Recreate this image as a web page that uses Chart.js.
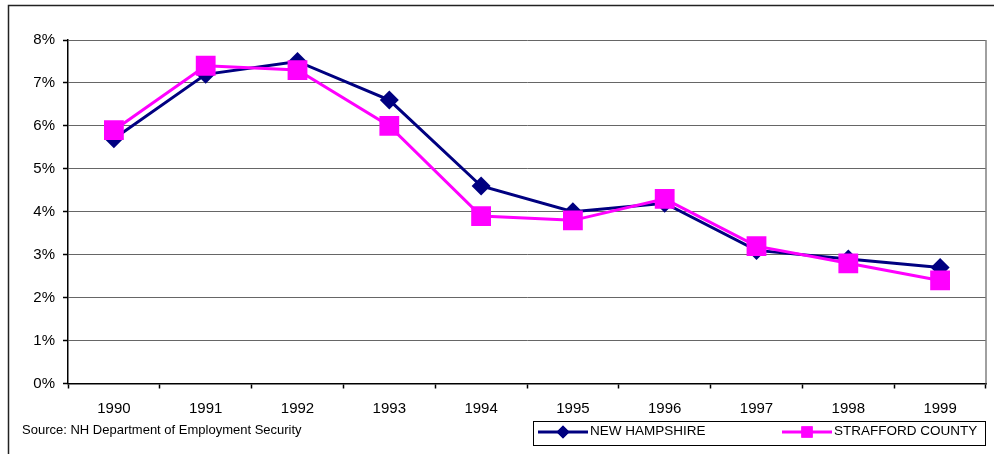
<!DOCTYPE html>
<html>
<head>
<meta charset="utf-8">
<title>Unemployment Rate 1990-1999</title>
<script src="https://cdn.jsdelivr.net/npm/chart.js@4/dist/chart.umd.min.js"></script>
<style>
  html, body { margin: 0; padding: 0; background: #fff; }
  #wrap { position: relative; width: 994px; height: 454px; }
</style>
</head>
<body>
<div id="wrap"><canvas id="chart" width="994" height="454"></canvas></div>
<script>
// Annual unemployment rate (%)
const years = ['1990', '1991', '1992', '1993', '1994', '1995', '1996', '1997', '1998', '1999'];
const newHampshire = [5.7, 7.2, 7.5, 6.6, 4.6, 4.0, 4.2, 3.1, 2.9, 2.7];
const straffordCounty = [5.9, 7.4, 7.3, 6.0, 3.9, 3.8, 4.3, 3.2, 2.8, 2.4];
const seriesNames = ['NEW HAMPSHIRE', 'STRAFFORD COUNTY'];
const sourceNote = 'Source: NH Department of Employment Security';

const FONT = "'Liberation Sans', Arial, sans-serif";
const NAVY = '#000080';
const MAGENTA = '#FF00FF';

// Outer frame, plot right edge, source note and boxed legend
const decorations = {
  id: 'decorations',
  beforeDraw(chart) {
    const ctx = chart.ctx;
    ctx.save();
    ctx.fillStyle = '#fff';
    ctx.fillRect(0, 0, chart.width, chart.height);
    ctx.strokeStyle = '#222';
    ctx.lineWidth = 1.5;
    ctx.beginPath();
    ctx.moveTo(8.5, chart.height + 2);
    ctx.lineTo(8.5, 5.5);
    ctx.lineTo(chart.width + 2, 5.5);
    ctx.stroke();
    ctx.restore();
  },
  afterDraw(chart) {
    const ctx = chart.ctx;
    const a = chart.chartArea;
    ctx.save();
    // right edge of plot area
    ctx.strokeStyle = '#808080';
    ctx.lineWidth = 1.5;
    ctx.beginPath();
    ctx.moveTo(a.right, a.top);
    ctx.lineTo(a.right, a.bottom);
    ctx.stroke();

    // source note
    ctx.fillStyle = '#000';
    ctx.font = '13px ' + FONT;
    ctx.textBaseline = 'middle';
    ctx.textAlign = 'left';
    ctx.fillText(sourceNote, 22, 430);

    // legend box
    ctx.strokeStyle = '#000';
    ctx.lineWidth = 1;
    ctx.strokeRect(533.5, 421.5, 452, 24);
    const cy = 432;
    const items = [
      { ds: chart.data.datasets[0], x: 538, style: 'rectRot', r: 6.5 },
      { ds: chart.data.datasets[1], x: 782, style: 'rect', r: 8 }
    ];
    items.forEach(it => {
      ctx.strokeStyle = it.ds.borderColor;
      ctx.lineWidth = 3;
      ctx.beginPath();
      ctx.moveTo(it.x, cy);
      ctx.lineTo(it.x + 50, cy);
      ctx.stroke();
      ctx.fillStyle = it.ds.borderColor;
      Chart.helpers.drawPoint(ctx, { pointStyle: it.style, radius: it.r, borderWidth: 0, rotation: 0 }, it.x + 25, cy);
      ctx.fill();
      ctx.fillStyle = '#000';
      ctx.font = '13.5px ' + FONT;
      ctx.textBaseline = 'middle';
      ctx.fillText(it.ds.label, it.x + 52, cy - 1);
    });
    ctx.restore();
  }
};

new Chart(document.getElementById('chart'), {
  type: 'line',
  data: {
    labels: years,
    datasets: [
      {
        label: seriesNames[0],
        data: newHampshire,
        borderColor: NAVY,
        backgroundColor: NAVY,
        borderWidth: 3,
        pointStyle: 'rectRot',
        pointRadius: 9.5,
        pointHoverRadius: 9.5,
        pointBorderWidth: 0,
        pointBackgroundColor: NAVY,
        tension: 0,
        order: 1
      },
      {
        label: seriesNames[1],
        data: straffordCounty,
        borderColor: MAGENTA,
        backgroundColor: MAGENTA,
        borderWidth: 3,
        pointStyle: 'rect',
        pointRadius: 14,
        pointHoverRadius: 14,
        pointBorderWidth: 0,
        pointBackgroundColor: MAGENTA,
        tension: 0,
        order: 0
      }
    ]
  },
  options: {
    responsive: false,
    animation: false,
    devicePixelRatio: 1,
    layout: { autoPadding: false, padding: { top: 40, right: 8, left: 0, bottom: 0 } },
    plugins: {
      legend: { display: false },
      tooltip: { enabled: false },
      title: { display: false }
    },
    scales: {
      x: {
        offset: true,
        afterFit(scale) {
          scale.height = 70.5;
          scale.paddingLeft = 0;
          scale.paddingRight = 0;
        },
        grid: {
          offset: true,
          drawOnChartArea: false,
          tickLength: 5,
          tickColor: '#000',
          tickWidth: 1.5
        },
        border: { color: '#000', width: 1.5 },
        ticks: {
          color: '#000',
          font: { family: FONT, size: 15 },
          padding: 11,
          maxRotation: 0
        }
      },
      y: {
        min: 0,
        max: 8,
        afterFit(scale) { scale.width = 68; },
        grid: {
          color: '#666',
          lineWidth: 1,
          tickLength: 5,
          tickColor: '#000',
          tickWidth: 1.5
        },
        border: { color: '#000', width: 1.5 },
        ticks: {
          stepSize: 1,
          color: '#000',
          font: { family: FONT, size: 15 },
          padding: 8,
          callback: v => v + '%'
        }
      }
    }
  },
  plugins: [decorations]
});
</script>
</body>
</html>
